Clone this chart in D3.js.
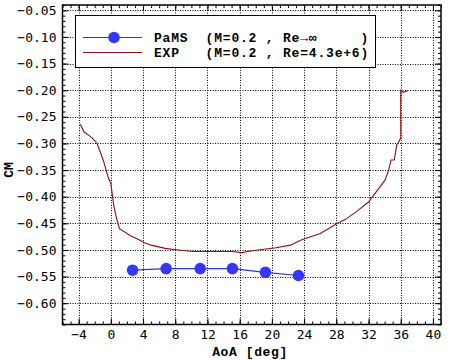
<!DOCTYPE html>
<html><head><meta charset="utf-8">
<script src="https://cdn.jsdelivr.net/npm/d3@7"></script>
<style>html,body{margin:0;padding:0;background:#fff;}</style>
</head><body>
<svg id="chart" width="450" height="360"></svg>
<script>
// ---- data ----
const pamsAoA = [2.7, 6.87, 11.1, 15.1, 19.2, 23.3];
const pamsCM  = [-0.538, -0.535, -0.535, -0.535, -0.542, -0.548];

const expAoA = [-3.8, -3.3, -2.9, -2.3, -1.7, -0.95, -0.3, 0.0, 0.36, 0.7, 1.08, 2.4, 3.5, 4.1, 5.0, 6.75, 8.4, 10.2, 12.0, 14.2, 15.0, 16.3, 17.0, 18.5, 20.5, 22.3, 23.7, 26.0, 28.05, 29.1, 30.5, 32.0, 33.0, 34.05, 34.5, 34.8, 35.2, 35.5, 35.75, 36.0, 36.0, 36.3, 36.9];
const expCM  = [-0.264, -0.279, -0.283, -0.290, -0.300, -0.331, -0.365, -0.375, -0.416, -0.440, -0.460, -0.473, -0.481, -0.486, -0.491, -0.497, -0.500, -0.503, -0.503, -0.503, -0.503, -0.505, -0.503, -0.4995, -0.496, -0.491, -0.481, -0.469, -0.451, -0.443, -0.428, -0.410, -0.390, -0.369, -0.350, -0.331, -0.331, -0.303, -0.297, -0.290, -0.200, -0.204, -0.201];

const xTicks = [-4, 0, 4, 8, 12, 16, 20, 24, 28, 32, 36, 40];
const yTicks = [-0.05, -0.10, -0.15, -0.20, -0.25, -0.30, -0.35, -0.40, -0.45, -0.50, -0.55, -0.60];
const legendNames = ["PaMS  (M=0.2 , Re\u2192\u221E     )", "EXP   (M=0.2 , Re=4.3e+6)"];

// ---- layout ----
const svg = d3.select("#chart");
const L = 62.5, R = 441, T = 5, B = 324.5;
const x = d3.scaleLinear().domain([-6, 41]).range([L, R]);
const y = d3.scaleLinear().domain([-0.64, -0.04]).range([B, T]);

const blueLine = "#2b3bbf", blueDot = "#3535ff", red = "#8e1010";

// grid
const grid = svg.append("g").attr("stroke", "#000").attr("stroke-width", 1).attr("stroke-dasharray", "1,1.5");
xTicks.forEach(t => grid.append("line").attr("x1", Math.round(x(t)) + 0.5).attr("x2", Math.round(x(t)) + 0.5).attr("y1", T).attr("y2", B));
yTicks.forEach(t => grid.append("line").attr("y1", Math.round(y(t)) + 0.5).attr("y2", Math.round(y(t)) + 0.5).attr("x1", L).attr("x2", R));

// axes with inward ticks
const xMinor = d3.range(-6, 42, 1);
const yMinor = d3.range(-64, -3, 1).map(v => v / 100);
function addAxis(gen, tr) {
  const g = svg.append("g").attr("transform", tr).call(gen);
  g.select(".domain").remove();
  return g;
}
const fmtY = d => d3.format(".2f")(d).replace("-", "\u2212");
// minor
addAxis(d3.axisBottom(x).tickValues(xMinor).tickSize(-3).tickFormat(""), `translate(0,${B})`);
addAxis(d3.axisTop(x).tickValues(xMinor).tickSize(-3).tickFormat(""), `translate(0,${T})`);
addAxis(d3.axisLeft(y).tickValues(yMinor).tickSize(-3).tickFormat(""), `translate(${L},0)`);
addAxis(d3.axisRight(y).tickValues(yMinor).tickSize(-3).tickFormat(""), `translate(${R},0)`);
// major
const xb = addAxis(d3.axisBottom(x).tickValues(xTicks).tickSize(-6).tickPadding(5).tickFormat(d => String(d).replace("-", "\u2212")), `translate(0,${B})`);
addAxis(d3.axisTop(x).tickValues(xTicks).tickSize(-6).tickFormat(""), `translate(0,${T})`);
const yl = addAxis(d3.axisLeft(y).tickValues(yTicks).tickSize(-6).tickPadding(6).tickFormat(fmtY), `translate(${L},0)`);
addAxis(d3.axisRight(y).tickValues(yTicks).tickSize(-6).tickFormat(""), `translate(${R},0)`);

svg.selectAll(".tick line").attr("stroke", "#000");
svg.selectAll(".tick text").attr("font-family", "DejaVu Sans Mono").attr("font-size", 13).attr("fill", "#000");
xb.selectAll(".tick text").attr("dy", "0.71em");

// frame
svg.append("rect").attr("x", L).attr("y", T).attr("width", R - L).attr("height", B - T)
  .attr("fill", "none").attr("stroke", "#000").attr("stroke-width", 1.5);

// EXP line
const expData = expAoA.map((a, i) => [a, expCM[i]]);
svg.append("path").datum(expData)
  .attr("fill", "none").attr("stroke", red).attr("stroke-width", 1.1)
  .attr("d", d3.line().x(d => x(d[0])).y(d => y(d[1])));

// PaMS
const pamsData = pamsAoA.map((a, i) => [a, pamsCM[i]]);
svg.append("path").datum(pamsData)
  .attr("fill", "none").attr("stroke", blueLine).attr("stroke-width", 1.2)
  .attr("d", d3.line().x(d => x(d[0])).y(d => y(d[1])));
svg.selectAll(".pt").data(pamsData).enter().append("circle")
  .attr("cx", d => x(d[0])).attr("cy", d => y(d[1])).attr("r", 5.8).attr("fill", blueDot);

// legend
const lg = svg.append("g");
lg.append("rect").attr("x", 75.5).attr("y", 15.5).attr("width", 300).attr("height", 52)
  .attr("fill", "#fff").attr("stroke", "#000").attr("stroke-width", 1);
const rows = [{c: blueLine, dot: true, y: 37.5}, {c: red, dot: false, y: 52.5}];
rows.forEach((r, i) => {
  lg.append("line").attr("x1", 83).attr("x2", 142).attr("y1", r.y).attr("y2", r.y)
    .attr("stroke", r.c).attr("stroke-width", 1.2);
  if (r.dot) lg.append("circle").attr("cx", 114).attr("cy", r.y).attr("r", 5.8).attr("fill", blueDot);
  lg.append("text").attr("x", 154).attr("y", r.y + 4.5)
    .attr("font-family", "Liberation Mono").attr("font-weight", "bold").attr("font-size", 13)
    .attr("letter-spacing", 0.8).attr("xml:space", "preserve").style("white-space", "pre")
    .text(legendNames[i]);
});

// axis titles
svg.append("text").attr("x", 250).attr("y", 356).attr("text-anchor", "middle")
  .attr("font-family", "Liberation Mono").attr("font-weight", "bold").attr("font-size", 13)
  .attr("letter-spacing", 0.6).style("white-space", "pre").text("AoA [deg]");
svg.append("text").attr("transform", "translate(13,170) rotate(-90)").attr("text-anchor", "middle")
  .attr("font-family", "Liberation Mono").attr("font-weight", "bold").attr("font-size", 13)
  .text("CM");
</script>
</body></html>
